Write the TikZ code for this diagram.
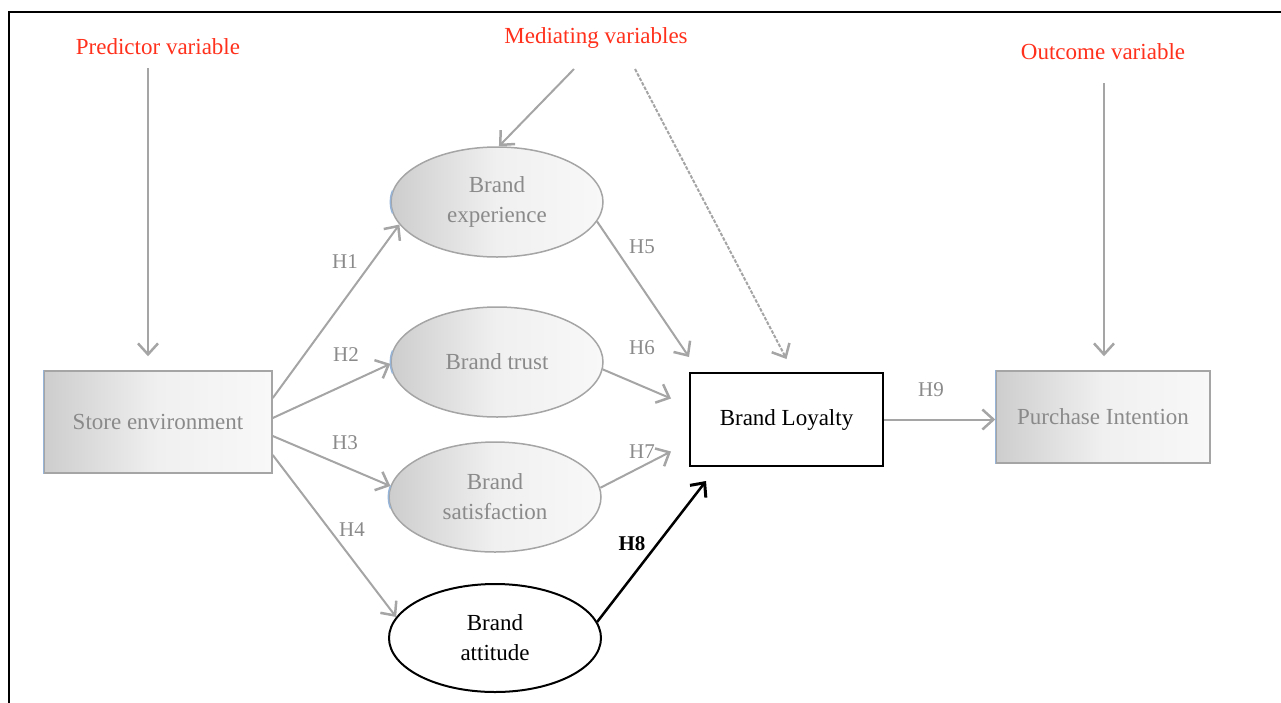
\documentclass[tikz,border=0pt]{standalone}
\usepackage{fontspec}
\setmainfont{Liberation Serif}
\usetikzlibrary{arrows.meta,shapes.geometric}
\definecolor{headred}{RGB}{255,48,28}
\definecolor{softtext}{RGB}{138,138,138}
\definecolor{linkgray}{RGB}{165,165,165}
\definecolor{edgegray}{RGB}{165,165,165}
\definecolor{shadeL}{RGB}{205,205,205}
\definecolor{shadeM}{RGB}{240,240,240}
\definecolor{shadeR}{RGB}{248,248,248}
\definecolor{edgeblue}{RGB}{150,180,215}
\tikzset{
  txt/.style={font=\fontsize{23}{30}\selectfont},
  softfill/.style={left color=shadeL, right color=shadeR, middle color=shadeM},
  varbox/.style={txt, draw=edgegray, line width=1.5pt, softfill,
    minimum width=228pt, minimum height=102pt, inner sep=0pt, text=softtext},
  varell/.style={txt, ellipse, draw=edgegray, line width=1.5pt, softfill,
    minimum width=212pt, minimum height=110pt, inner sep=0pt, align=center, text=softtext},
  keybox/.style={txt, draw=black, line width=2pt, fill=white,
    minimum width=193pt, minimum height=93pt, inner sep=0pt, text=black},
  keyell/.style={txt, ellipse, draw=black, line width=2pt, fill=white,
    minimum width=212pt, minimum height=108pt, inner sep=0pt, align=center, text=black},
  heading/.style={txt, text=headred},
  hlabel/.style={font=\fontsize{21}{24}\selectfont, text=softtext},
  link/.style={draw=linkgray, line width=2pt,
    -{Straight Barb[length=11pt,width=20pt,line width=2.5pt]}},
  cue/.style={link},
  strong/.style={draw=black, line width=2.5pt,
    -{Straight Barb[length=11pt,width=20pt,line width=3pt]}},
  blueline/.style={draw=edgeblue, line width=1.5pt},
}
\begin{document}
\begin{tikzpicture}[x=1pt,y=-1pt]
\useasboundingbox (0,0) rectangle (1281,702);
% frame
\draw[line width=2.5pt] (9,703) -- (9,12) -- (1282,12);

% headings
\node[heading] (pred) at (158,47) {Predictor variable};
\node[heading] (med) at (596,38) {Mediating variables};
\node[heading] (outc) at (1103,52) {Outcome variable};

% variables
\node[varbox] (store) at (158,422) {Store environment};
\node[varell] (exp) at (497,202) {Brand\\experience};
\node[varell] (trust) at (497,362) {Brand trust};
\node[varell] (sat) at (495,497) {Brand\\satisfaction};
\node[keyell] (att) at (495,638) {Brand\\attitude};
\node[keybox] (loyal) at (786.5,419.5) {Brand Loyalty};
\node[varbox, minimum width=214pt, minimum height=92pt] (purch) at (1103,417) {Purchase Intention};

% bluish left edges
\draw[blueline] (store.north west) -- (store.south west);
\draw[blueline] (purch.north west) -- (purch.south west);
\foreach \e in {exp,trust,sat}{
  \draw[blueline] (\e.west) arc[start angle=180, end angle=168, x radius=106pt, y radius=55pt];
  \draw[blueline] (\e.west) arc[start angle=180, end angle=192, x radius=106pt, y radius=55pt];
}

% cue arrows from the headings
\coordinate (predfoot) at (148,68);
\coordinate (medfootA) at (574,69);
\coordinate (medfootB) at (635,69);
\coordinate (outcfoot) at (1104,83);
\draw[cue] (predfoot) -- ([xshift=-10pt,yshift=14pt]store.north);
\draw[cue] (medfootA) -- (exp.88);
\draw[cue, dash pattern=on 3.5pt off 1.5pt] (medfootB) -- ([yshift=13pt]loyal.north);
\draw[cue] (outcfoot) -- ([xshift=1pt,yshift=14pt]purch.north);

% hypotheses
\draw[link] ([yshift=24pt]store.east) -- (exp.193);
\draw[link] ([yshift=4pt]store.east) -- (trust.181);
\draw[link] ([yshift=-14pt]store.east) -- (sat.174);
\draw[link] ([yshift=-33pt]store.east) -- (att.168);
\draw[link] (exp.-11) -- ([yshift=15pt]loyal.north west);
\draw[link] (trust.-4) -- ([xshift=-18pt,yshift=21pt]loyal.west);
\draw[link] (sat.5) -- ([xshift=-18pt,yshift=-32pt]loyal.west);
\draw[strong] (att.9) -- ([xshift=17pt,yshift=-14pt]loyal.south west);
\draw[link] (loyal.east) -- (loyal.east -| purch.west);

% hypothesis labels
\node[hlabel] (h1) at (345,262) {H1};
\node[hlabel] (h2) at (346,355) {H2};
\node[hlabel] (h3) at (345,443) {H3};
\node[hlabel] (h4) at (352,530) {H4};
\node[hlabel] (h5) at (642,247) {H5};
\node[hlabel] (h6) at (642,348) {H6};
\node[hlabel] (h7) at (642,452) {H7};
\node[hlabel, text=black, font=\bfseries\fontsize{21}{24}\selectfont] (h8) at (632,544) {H8};
\node[hlabel] (h9) at (931,390) {H9};
\end{tikzpicture}
\end{document}
